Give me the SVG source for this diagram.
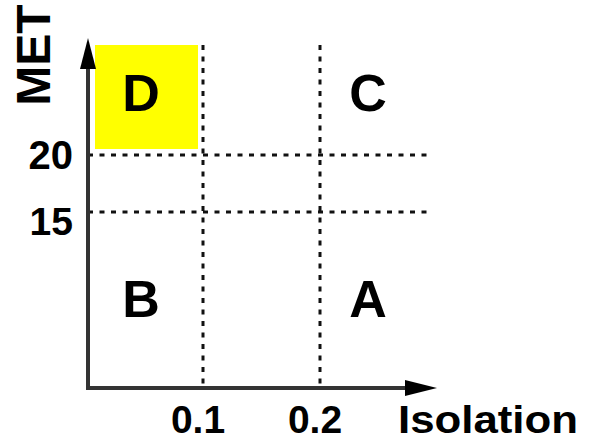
<svg xmlns="http://www.w3.org/2000/svg" width="591" height="440" viewBox="0 0 591 440">
<style>
.t{font-family:"Liberation Sans",Arial,sans-serif;font-weight:bold;fill:#000}
.dot{stroke:#111;stroke-width:3;stroke-dasharray:5 6.5;fill:none}
.axis{stroke:#333;stroke-width:4;fill:none}
</style>
<rect width="591" height="440" fill="#fff"/>
<g id="regionD">
<rect x="95" y="45" width="103" height="104" fill="#ffff00"/>
<text class="t" x="141" y="111" font-size="52" text-anchor="middle">D</text>
</g>
<g id="connectors">
<line class="dot" x1="203" y1="45" x2="203" y2="388"/>
<line class="dot" x1="320" y1="45" x2="320" y2="388"/>
<line class="dot" x1="88" y1="155" x2="433" y2="155"/>
<line class="dot" x1="88" y1="212" x2="433" y2="212"/>
<line class="axis" x1="88" y1="390" x2="88" y2="62"/>
<line class="axis" x1="86" y1="388" x2="410" y2="388"/>
<path d="M88,38 L96,69 L80,69 Z" fill="#000"/>
<path d="M437,388 L405,396 L405,380 Z" fill="#000"/>
</g>
<g id="regionC"><text class="t" x="368" y="111" font-size="52" text-anchor="middle">C</text></g>
<g id="regionB"><text class="t" x="141" y="317" font-size="52" text-anchor="middle">B</text></g>
<g id="regionA"><text class="t" x="368" y="317" font-size="52" text-anchor="middle">A</text></g>
<g id="labels">
<text class="t" font-size="48" text-anchor="middle" transform="translate(50,55) rotate(-90)">MET</text>
<text class="t" x="73" y="169" font-size="40" text-anchor="end">20</text>
<text class="t" x="73" y="235" font-size="39" text-anchor="end">15</text>
<text class="t" x="198" y="433" font-size="39" text-anchor="middle">0.1</text>
<text class="t" x="315" y="433" font-size="39" text-anchor="middle">0.2</text>
<text class="t" x="398" y="433" font-size="39" textLength="180" lengthAdjust="spacingAndGlyphs">Isolation</text>
</g>
</svg>
